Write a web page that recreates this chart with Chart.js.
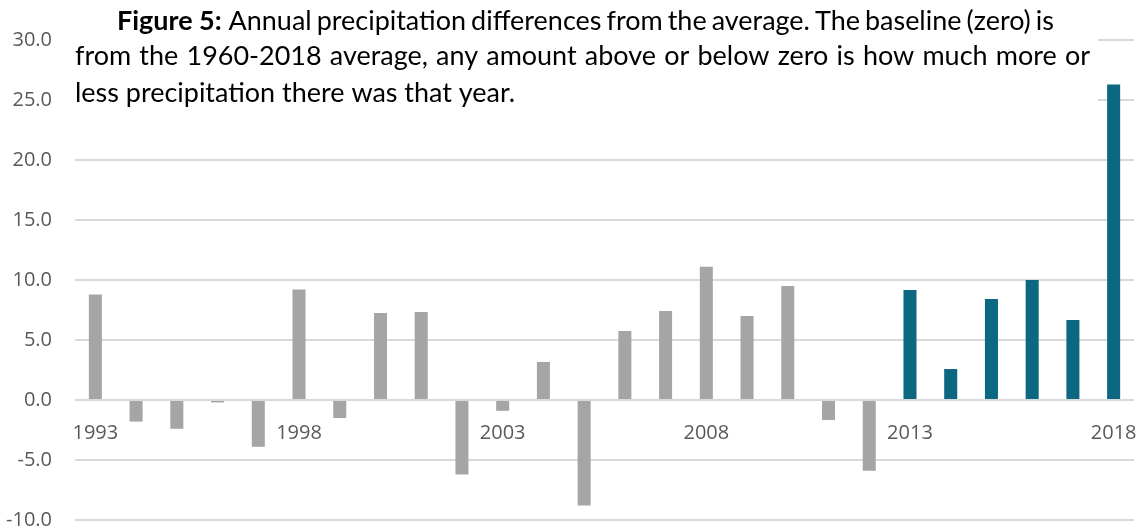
<!DOCTYPE html>
<html>
<head>
<meta charset="utf-8">
<script src="https://cdn.jsdelivr.net/npm/chart.js@4.4.0/dist/chart.umd.min.js"></script>
<style>
  html, body { margin: 0; padding: 0; background: #ffffff; }
  #wrap { position: relative; width: 1148px; height: 529px; }
  canvas { display: block; }
</style>
</head>
<body>
<div id="wrap"><canvas id="c" width="1148" height="529"></canvas></div>
<script>
const years = [1993,1994,1995,1996,1997,1998,1999,2000,2001,2002,2003,2004,2005,2006,2007,2008,2009,2010,2011,2012,2013,2014,2015,2016,2017,2018];
const precipDiff = [8.8,-1.8,-2.4,-0.2,-3.9,9.2,-1.5,7.25,7.33,-6.2,-0.9,3.17,-8.8,5.75,7.42,11.1,7.0,9.5,-1.67,-5.9,9.17,2.58,8.42,10.0,6.67,26.3];
const highlightFrom = 2013;
const yTicks = [-10,-5,0,5,10,15,20,25,30];
const labelEvery = 5;
const titleBold = "Figure 5:";
const titleLines = [
  "Annual precipitation differences from the average. The baseline (zero) is",
  "from the 1960-2018 average, any amount above or below zero is how much more or",
  "less precipitation there was that year."
];

const GRAY = '#a5a5a5';
const TEAL = '#0c6780';
const TICK_COLOR = '#595959';
const TICK_FONT = '20px "Open Sans", sans-serif';
const barColors = years.map(y => y >= highlightFrom ? TEAL : GRAY);

// category labels placed just below the zero line, positioned by the chart's own scales
const zeroAxisLabels = {
  id: 'zeroAxisLabels',
  afterDatasetsDraw(chart) {
    const ctx = chart.ctx;
    const xs = chart.scales.x, ys = chart.scales.y;
    const y0 = ys.getPixelForValue(0);
    ctx.save();
    ctx.font = TICK_FONT;
    ctx.fillStyle = TICK_COLOR;
    ctx.textAlign = 'center';
    ctx.textBaseline = 'middle';
    years.forEach((yr, i) => {
      if (i % labelEvery === 0) ctx.fillText(String(yr), xs.getPixelForValue(i), y0 + 33);
    });
    ctx.restore();
  }
};

function drawJustified(ctx, words, x0, x1, y) {
  const widths = words.map(w => ctx.measureText(w).width);
  const total = widths.reduce((a, b) => a + b, 0);
  const gap = (x1 - x0 - total) / (words.length - 1);
  let x = x0;
  words.forEach((w, i) => { ctx.fillText(w, x, y); x += widths[i] + gap; });
}

const textBox = {
  id: 'textBox',
  afterDraw(chart) {
    const ctx = chart.ctx;
    ctx.save();
    ctx.fillStyle = '#ffffff';
    ctx.fillRect(68, 0, 1030, 112);
    const fam = 'Lato, "Open Sans", sans-serif';
    // font size: compromise between fitting line 1 and line 2 naturally
    ctx.font = '24px ' + fam;
    const w2 = ctx.measureText(titleLines[1]).width;
    const w1r = ctx.measureText(' ' + titleLines[0]).width;
    ctx.font = 'bold 24px ' + fam;
    const w1b = ctx.measureText(titleBold).width;
    const fs1 = 24 * (1054 - 117) / (w1r + w1b);
    const fs2 = 24 * (1090 - 75) / w2;
    const fs = (fs1 + fs2) / 2;
    ctx.fillStyle = '#000000';
    ctx.textBaseline = 'alphabetic';
    ctx.textAlign = 'left';
    ctx.font = 'bold ' + fs + 'px ' + fam;
    ctx.fillText(titleBold, 117, 30);
    const bw = ctx.measureText(titleBold).width;
    ctx.font = fs + 'px ' + fam;
    const sp = ctx.measureText(' ').width;
    drawJustified(ctx, titleLines[0].split(' '), 117 + bw + sp, 1054, 30);
    drawJustified(ctx, titleLines[1].split(' '), 75, 1090, 65);
    ctx.fillText(titleLines[2], 75, 102);
    ctx.restore();
  }
};

new Chart(document.getElementById('c'), {
  type: 'bar',
  data: {
    labels: years.map(String),
    datasets: [{
      data: precipDiff,
      backgroundColor: barColors,
      borderWidth: 0,
      barPercentage: 0.32,
      categoryPercentage: 1.0
    }]
  },
  options: {
    responsive: false,
    animation: false,
    events: [],
    layout: { padding: { top: 40, bottom: 9, left: 0, right: 14 } },
    plugins: {
      legend: { display: false },
      tooltip: { enabled: false },
      title: { display: false }
    },
    scales: {
      x: {
        display: false,
        offset: true
      },
      y: {
        min: -10,
        max: 30,
        afterBuildTicks: (s) => { s.ticks = yTicks.map(v => ({ value: v })); },
        afterFit: (s) => { s.width = 75; s.paddingTop = 0; s.paddingBottom = 0; },
        grid: { color: '#d9d9d9', lineWidth: 2, drawTicks: false },
        border: { display: false },
        ticks: {
          padding: 23,
          color: TICK_COLOR,
          font: { family: '"Open Sans", sans-serif', size: 20 },
          callback: (v) => Number(v).toFixed(1)
        }
      }
    }
  },
  plugins: [zeroAxisLabels, textBox]
});
</script>
</body>
</html>
